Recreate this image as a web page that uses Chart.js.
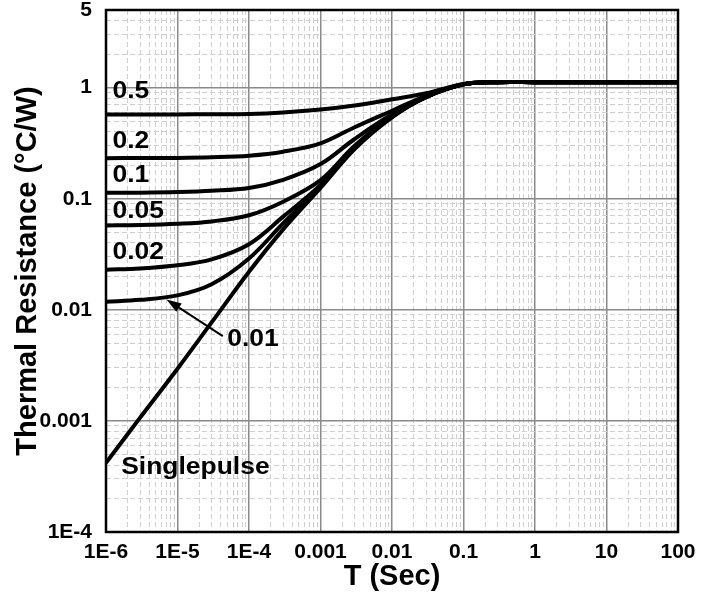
<!DOCTYPE html>
<html>
<head>
<meta charset="utf-8">
<script src="https://cdn.jsdelivr.net/npm/chart.js"></script>
<style>
  html, body { margin: 0; padding: 0; background: #fff; }
  canvas { display: block; }
</style>
</head>
<body>
<canvas id="chart" width="717" height="593"></canvas>
<script>
// pulse width (s), half decade steps
const times = [1e-6, 3e-6, 1e-5, 3e-5, 1e-4, 3e-4, 1e-3, 3e-3, 0.01, 0.03, 0.1, 0.3, 1, 10, 100];

// Zth, one list per duty cycle
const zSingle = [0.00042, 0.00107, 0.00295, 0.0077, 0.022, 0.053, 0.125, 0.28, 0.54, 0.82, 1.07, 1.12, 1.12, 1.12, 1.12];
const z001 = [0.0118, 0.0123, 0.0135, 0.0170, 0.029, 0.060, 0.128, 0.285, 0.545, 0.82, 1.07, 1.12, 1.12, 1.12, 1.12];
const z002 = [0.0230, 0.0236, 0.0252, 0.0285, 0.039, 0.069, 0.133, 0.29, 0.55, 0.825, 1.07, 1.12, 1.12, 1.12, 1.12];
const z005 = [0.0575, 0.0580, 0.0595, 0.0625, 0.071, 0.094, 0.147, 0.30, 0.555, 0.825, 1.07, 1.12, 1.12, 1.12, 1.12];
const z01 = [0.113, 0.1135, 0.115, 0.118, 0.125, 0.148, 0.205, 0.345, 0.575, 0.83, 1.07, 1.12, 1.12, 1.12, 1.12];
const z02 = [0.232, 0.2325, 0.233, 0.236, 0.244, 0.265, 0.315, 0.44, 0.62, 0.845, 1.075, 1.12, 1.12, 1.12, 1.12];
const z05 = [0.573, 0.573, 0.574, 0.576, 0.580, 0.598, 0.635, 0.69, 0.785, 0.89, 1.08, 1.12, 1.12, 1.12, 1.12];

// axis ticks
const xMajor = [1e-6, 1e-5, 1e-4, 1e-3, 0.01, 0.1, 1, 10, 100];
const xTickLabels = ['1E-6', '1E-5', '1E-4', '0.001', '0.01', '0.1', '1', '10', '100'];
const yMajor = [1e-4, 1e-3, 0.01, 0.1, 1, 5];
const yTickLabels = ['1E-4', '0.001', '0.01', '0.1', '1', '5'];

// curve labels: [text, t, z]
const curveLabels = [
    ['0.5', 1.23e-6, 0.914],
    ['0.2', 1.23e-6, 0.325],
    ['0.1', 1.23e-6, 0.163],
    ['0.05', 1.23e-6, 0.0766],
    ['0.02', 1.23e-6, 0.0324],
    ['0.01', 4.96e-5, 0.00542],
    ['Singlepulse', 1.63e-6, 0.000383],
];
// arrow from "0.01" label to its curve: [tailT, tailZ, headT, headZ]
const arrow01 = [4.3e-5, 0.0058, 7.0e-6, 0.0124];

const series = [zSingle, z001, z002, z005, z01, z02, z05];

function minorTicks(fromExp, toExp) {
    const out = [];
    for (let e = fromExp; e < toExp; e++) {
        for (let k = 2; k <= 9; k++) out.push(k * Math.pow(10, e));
    }
    return out;
}

function isMajor(list, v) {
    return list.some((m) => Math.abs(m - v) / m < 1e-6);
}

function labelFor(list, labels, v) {
    const i = list.findIndex((m) => Math.abs(m - v) / m < 1e-6);
    return i >= 0 ? labels[i] : '';
}

const FONT = "'Liberation Sans', Arial, sans-serif";

const datasets = series.map((ys) => ({
    data: times.map((t, i) => ({ x: t, y: ys[i] })),
    borderColor: '#000',
    borderWidth: 4,
    pointRadius: 0,
    fill: false,
    tension: 0.35,
}));

function gridOpts(majors) {
    return {
        drawTicks: false,
        color: (ctx) => (ctx.tick && isMajor(majors, ctx.tick.value) ? '#8a8a8a' : '#cfcfcf'),
        lineWidth: (ctx) => (ctx.tick && isMajor(majors, ctx.tick.value) ? 1.5 : 1),
    };
}

function borderOpts(majors) {
    return {
        display: false,
        dash: (ctx) => (ctx.tick && isMajor(majors, ctx.tick.value) ? [] : [5, 3]),
    };
}

const overlay = {
    id: 'overlay',
    afterDatasetsDraw(chart) {
        const { ctx, chartArea: a, scales: { x, y } } = chart;
        ctx.save();

        // frame
        ctx.strokeStyle = '#000';
        ctx.lineWidth = 2.5;
        ctx.strokeRect(a.left, a.top, a.right - a.left, a.bottom - a.top);

        // curve labels
        ctx.fillStyle = '#000';
        ctx.font = 'bold 23px ' + FONT;
        ctx.textAlign = 'left';
        ctx.textBaseline = 'middle';
        for (const [text, t, z] of curveLabels) {
            ctx.save();
            ctx.translate(x.getPixelForValue(t), y.getPixelForValue(z));
            ctx.scale(1.15, 1);
            ctx.fillText(text, 0, 0);
            ctx.restore();
        }

        // arrow
        const x0 = x.getPixelForValue(arrow01[0]);
        const y0 = y.getPixelForValue(arrow01[1]);
        const x1 = x.getPixelForValue(arrow01[2]);
        const y1 = y.getPixelForValue(arrow01[3]);
        const ang = Math.atan2(y1 - y0, x1 - x0);
        const len = 15, half = 5;
        const bx = x1 - len * Math.cos(ang);
        const by = y1 - len * Math.sin(ang);
        ctx.lineWidth = 2;
        ctx.beginPath();
        ctx.moveTo(x0, y0);
        ctx.lineTo(bx, by);
        ctx.stroke();
        ctx.beginPath();
        ctx.moveTo(x1, y1);
        ctx.lineTo(bx + half * Math.sin(ang), by - half * Math.cos(ang));
        ctx.lineTo(bx - half * Math.sin(ang), by + half * Math.cos(ang));
        ctx.closePath();
        ctx.fill();

        ctx.restore();
    },
};

new Chart(document.getElementById('chart'), {
    type: 'line',
    data: { datasets: datasets },
    options: {
        responsive: false,
        animation: false,
        layout: { padding: { top: 10, right: 39, left: 0, bottom: 0 } },
        plugins: { legend: { display: false }, tooltip: { enabled: false } },
        scales: {
            x: {
                type: 'logarithmic',
                min: 1e-6,
                max: 100,
                afterBuildTicks: (scale) => {
                    scale.ticks = xMajor.concat(minorTicks(-6, 2)).sort((a, b) => a - b).map((v) => ({ value: v }));
                },
                afterFit: (scale) => {
                    scale.height = 61;
                    scale.paddingLeft = 0;
                    scale.paddingRight = 0;
                },
                ticks: {
                    autoSkip: false,
                    maxRotation: 0,
                    padding: 8,
                    color: '#000',
                    font: { family: FONT, size: 21, weight: 'bold' },
                    callback: (v) => labelFor(xMajor, xTickLabels, v),
                },
                grid: gridOpts(xMajor),
                border: borderOpts(xMajor),
                title: {
                    display: true,
                    text: 'T (Sec)',
                    color: '#000',
                    padding: { top: 0, bottom: 2 },
                    font: { family: FONT, size: 29, weight: 'bold', lineHeight: 1 },
                },
            },
            y: {
                type: 'logarithmic',
                min: 1e-4,
                max: 5,
                afterBuildTicks: (scale) => {
                    scale.ticks = yMajor.concat(minorTicks(-4, 0), [2, 3, 4]).sort((a, b) => a - b).map((v) => ({ value: v }));
                },
                afterFit: (scale) => {
                    scale.width = 106;
                    scale.paddingTop = 0;
                    scale.paddingBottom = 0;
                },
                ticks: {
                    autoSkip: false,
                    padding: 14,
                    color: '#000',
                    font: { family: FONT, size: 21, weight: 'bold' },
                    callback: (v) => labelFor(yMajor, yTickLabels, v),
                },
                grid: gridOpts(yMajor),
                border: borderOpts(yMajor),
                title: {
                    display: true,
                    text: 'Thermal Resistance (°C/W)',
                    color: '#000',
                    padding: { top: 13, bottom: 0 },
                    font: { family: FONT, size: 29, weight: 'bold', lineHeight: 1 },
                },
            },
        },
    },
    plugins: [overlay],
});
</script>
</body>
</html>
